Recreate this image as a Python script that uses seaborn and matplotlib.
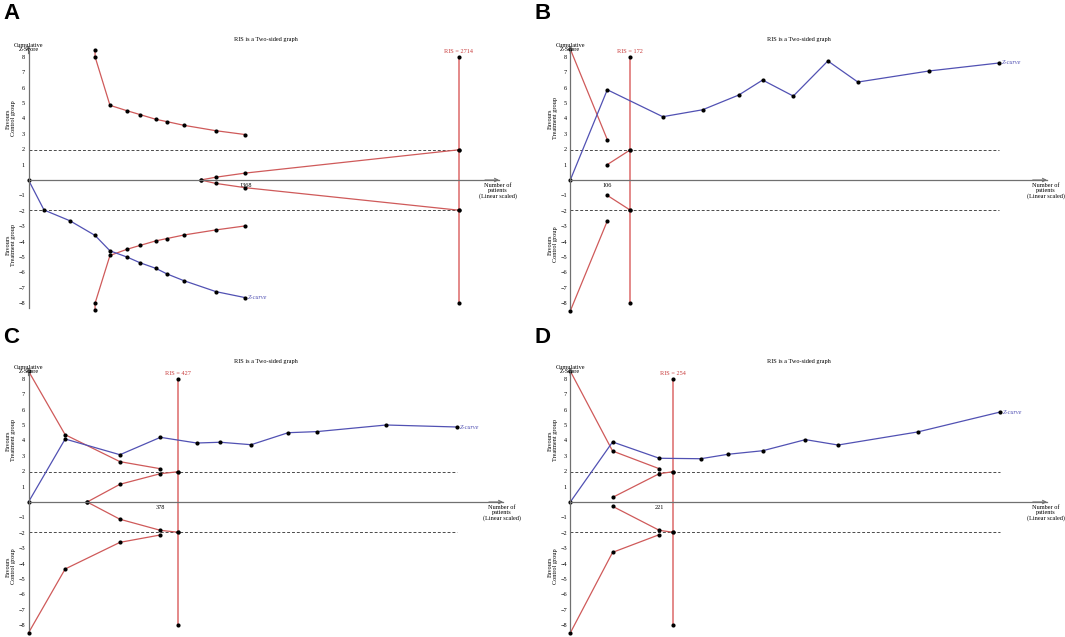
import matplotlib
matplotlib.use("Agg")
import matplotlib.pyplot as plt
import seaborn as sns

W, H = 1065, 637
SY = 15.4  # pixels per unit of z

# ---- panel A
a_x = [0, 98, 262, 420, 514, 621, 703, 804, 874, 981, 1183, 1368]
a_z = [0, -1.95, -2.65, -3.6, -4.6, -5.0, -5.37, -5.74, -6.1, -6.54, -7.25, -7.64]
a_bx = [420, 420, 514, 621, 703, 804, 874, 981, 1183, 1368]
a_bup = [8.45, 8.0, 4.85, 4.5, 4.25, 3.94, 3.79, 3.55, 3.2, 2.95]
a_blo = [-8.45, -8.0, -4.9, -4.5, -4.25, -3.95, -3.8, -3.57, -3.24, -2.98]
a_fx = [1086, 1181, 1368, 2714]
a_fup = [0, 0.18, 0.45, 1.96]
a_flo = [0, -0.22, -0.5, -1.96]
a_ris, a_tick = 2714, 1368

# ---- panel B
b_x = [0, 106, 265, 379, 483, 551, 639, 738, 824, 1028, 1229]
b_z = [0, 5.86, 4.11, 4.56, 5.52, 6.49, 5.45, 7.73, 6.36, 7.08, 7.6]
b_bx = [0, 106]
b_bup = [8.5, 2.62]
b_blo = [-8.5, -2.66]
b_fx = [106, 172]
b_fup = [1.0, 1.96]
b_flo = [-1.0, -1.96]
b_ris, b_tick = 172, 106

# ---- panel C
c_x = [0, 105, 262, 378, 482, 550, 638, 744, 826, 1025, 1228]
c_z = [0, 4.09, 3.07, 4.2, 3.83, 3.88, 3.72, 4.5, 4.57, 5.0, 4.87]
c_bx = [0, 105, 262, 378]
c_bup = [8.5, 4.37, 2.62, 2.16]
c_blo = [-8.5, -4.35, -2.62, -2.14]
c_fx = [168, 262, 378, 427]
c_fup = [0, 1.15, 1.84, 1.96]
c_flo = [0, -1.12, -1.84, -1.96]
c_ris, c_tick = 427, 378

# ---- panel D
d_x = [0, 105, 221, 324, 392, 478, 584, 665, 863, 1067]
d_z = [0, 3.9, 2.84, 2.81, 3.1, 3.33, 4.05, 3.7, 4.55, 5.84]
d_bx = [0, 105, 221]
d_bup = [8.5, 3.31, 2.16]
d_blo = [-8.5, -3.27, -2.12]
d_fx = [105, 221, 254]
d_fup = [0.3, 1.84, 1.96]
d_flo = [-0.28, -1.84, -1.96]
d_ris, d_tick = 254, 221

RED = "#cf5a5a"
RIS_RED = "#dc6a6a"
BLUE = "#5151b3"
AXIS = "#707070"
FS = 4.5

sns.set_style("white")
plt.rcParams["font.family"] = ["Liberation Serif", "DejaVu Serif"]
plt.rcParams["text.color"] = "black"
plt.rcParams["xtick.labelcolor"] = "black"
plt.rcParams["ytick.labelcolor"] = "black"

fig = plt.figure(figsize=(W / 100, H / 100), dpi=100)


def line(ax, xs, ys, color, lw=0.9):
    sns.lineplot(x=xs, y=ys, ax=ax, color=color, linewidth=lw, estimator=None,
                 sort=False, marker="o", markersize=3, markerfacecolor="black",
                 markeredgecolor="black", markeredgewidth=0)


def panel(letter, box, origin, sx, xend, dash_end, zx, zz, bx, bup, blo,
          fx, fup, flo, ris, tick, up_lab, lo_lab):
    left, top, right, bottom = box
    ox, oy = origin
    ax = fig.add_axes([left / W, 1 - bottom / H, (right - left) / W, (bottom - top) / H])
    ax.set_xlim((left - ox) / sx, (right - ox) / sx)
    ax.set_ylim((oy - bottom) / SY, (oy - top) / SY)
    ax.patch.set_alpha(0)

    for s in ["top", "right"]:
        ax.spines[s].set_visible(False)
    ax.spines["left"].set_position(("data", 0))
    ax.spines["bottom"].set_position(("data", 0))
    ax.spines["left"].set_bounds(-8.3, 8.4)
    ax.spines["bottom"].set_bounds(0, xend)
    for s in ["left", "bottom"]:
        ax.spines[s].set_color(AXIS)
        ax.spines[s].set_linewidth(0.9)
    ax.set_yticks(list(range(-8, 0)) + list(range(1, 9)))
    ax.set_xticks([tick])
    ax.tick_params(axis="y", direction="out", length=2, width=0.6, pad=0.5,
                   labelsize=FS, color=AXIS)
    ax.tick_params(axis="x", direction="inout", length=3, width=0.6, pad=0.5,
                   labelsize=FS, color=AXIS)
    ax.annotate("", xy=(0, 8.75), xytext=(0, 8.2),
                arrowprops=dict(arrowstyle="->", color=AXIS, lw=0.8,
                                mutation_scale=6, shrinkA=0, shrinkB=0))
    ax.annotate("", xy=(xend, 0), xytext=(xend * 0.97, 0),
                arrowprops=dict(arrowstyle="->", color=AXIS, lw=0.8,
                                mutation_scale=6, shrinkA=0, shrinkB=0))

    ax.hlines([1.96, -1.96], 0, dash_end, colors="#4a4a4a", linewidth=0.7,
              linestyles=(0, (3, 2)))

    line(ax, bx, bup, RED)
    line(ax, bx, blo, RED)
    line(ax, fx, fup, RED)
    line(ax, fx, flo, RED)
    line(ax, [ris, ris, ris, ris], [8, 1.96, -1.96, -8], RIS_RED, lw=1.1)
    line(ax, zx, zz, BLUE)

    ax.text(ris, 8.2, f"RIS = {ris}", color="#c83c3c", fontsize=FS,
            ha="center", va="bottom")
    ax.annotate("Z-curve", xy=(zx[-1], zz[-1]), xytext=(2, 0),
                textcoords="offset points", color=BLUE, fontsize=FS,
                style="italic", ha="left", va="center")
    ax.text(0, 8.3, "Cumulative\nZ-Score", fontsize=FS, ha="center",
            va="bottom", linespacing=0.9)
    ax.text(0.5, 9.15, "RIS is a Two-sided graph", fontsize=FS, ha="center",
            va="center", transform=ax.get_yaxis_transform())
    ax.annotate("Number of\npatients\n(Linear scaled)", xy=(xend, 0),
                xytext=(-1, -2.5), textcoords="offset points", fontsize=FS,
                ha="center", va="top", linespacing=0.95)
    ax.annotate(up_lab, xy=(0, 4.0), xytext=(-12.5, 0), textcoords="offset points",
                fontsize=FS, rotation=90, ha="center", va="center", linespacing=0.95)
    ax.annotate(lo_lab, xy=(0, -4.2), xytext=(-12.5, 0), textcoords="offset points",
                fontsize=FS, rotation=90, ha="center", va="center", linespacing=0.95)
    ax.set_xlabel("")
    ax.set_ylabel("")

    ly = 3 if top == 0 else 327
    fig.text((left + 3) / W, 1 - ly / H, letter, fontsize=16, fontweight="bold",
             family="Liberation Sans", color="black", ha="left", va="top")


ctrl = "Favours\nControl group"
treat = "Favours\nTreatment group"

panel("A", (0, 0, 532, 318), (28.5, 180), 0.1585, 2969, a_ris,
      a_x, a_z, a_bx, a_bup, a_blo, a_fx, a_fup, a_flo, a_ris, a_tick, ctrl, treat)
panel("B", (532, 0, 1065, 318), (570.3, 180), 0.349, 1366, b_x[-1],
      b_x, b_z, b_bx, b_bup, b_blo, b_fx, b_fup, b_flo, b_ris, b_tick, treat, ctrl)
panel("C", (0, 318, 532, 637), (28.5, 502), 0.349, 1360, c_x[-1],
      c_x, c_z, c_bx, c_bup, c_blo, c_fx, c_fup, c_flo, c_ris, c_tick, treat, ctrl)
panel("D", (532, 318, 1065, 637), (570.3, 502), 0.4027, 1184, d_x[-1],
      d_x, d_z, d_bx, d_bup, d_blo, d_fx, d_fup, d_flo, d_ris, d_tick, treat, ctrl)

fig.savefig("out.png", dpi=100)
